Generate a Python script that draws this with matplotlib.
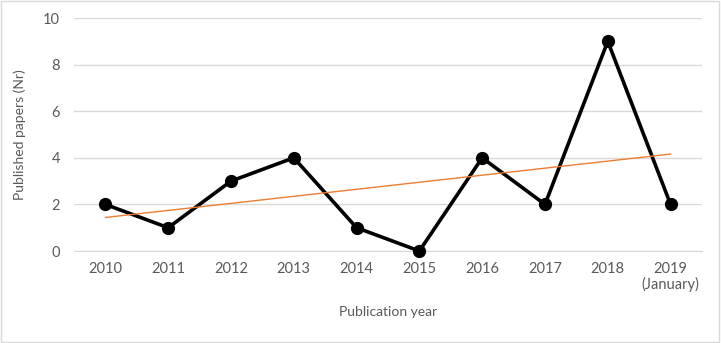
import matplotlib.pyplot as plt

years = ['2010', '2011', '2012', '2013', '2014', '2015', '2016', '2017', '2018', '2019\n(January)']
papers = [2, 1, 3, 4, 1, 0, 4, 2, 9, 2]
# linear trendline endpoints
trend_x = [0, 9]
trend_y = [1.44, 4.16]

plt.rcParams['font.family'] = ['Lato', 'DejaVu Sans']
grey = '#595959'

fig = plt.figure(figsize=(7.21, 3.43), dpi=100)
ax = fig.add_axes([0.1026, 0.2682, 0.871, 0.6793])

x = list(range(len(years)))
ax.plot(x, papers, color='black', linewidth=2.6, marker='o', markersize=8.5, zorder=3, clip_on=False)
ax.plot(trend_x, trend_y, color='#ED7D31', linewidth=1.0, zorder=4)

ax.set_xlim(-0.5, len(years) - 0.5)
ax.set_ylim(0, 10)
ax.set_yticks(range(0, 11, 2))
ax.set_xticks(x)
ax.set_xticklabels(years, linespacing=1.1)
ax.tick_params(axis='both', length=0, colors=grey, labelsize=10.5)
ax.tick_params(axis='x', pad=8)
ax.tick_params(axis='y', pad=10)
ax.grid(axis='y', color='#d9d9d9', linewidth=1)
ax.set_axisbelow(True)
for s in ['top', 'right', 'left']:
    ax.spines[s].set_visible(False)
ax.spines['bottom'].set_color('#d9d9d9')

ax.set_xlabel('Publication year', color=grey, fontsize=10, labelpad=10)
ax.set_ylabel('Published papers (Nr)', color=grey, fontsize=10, labelpad=12)

fig.patches.append(plt.Rectangle((0.002, 0.003), 0.995, 0.994, transform=fig.transFigure,
                                 fill=False, edgecolor='#d9d9d9', linewidth=1))

fig.savefig('out.png', dpi=100)
